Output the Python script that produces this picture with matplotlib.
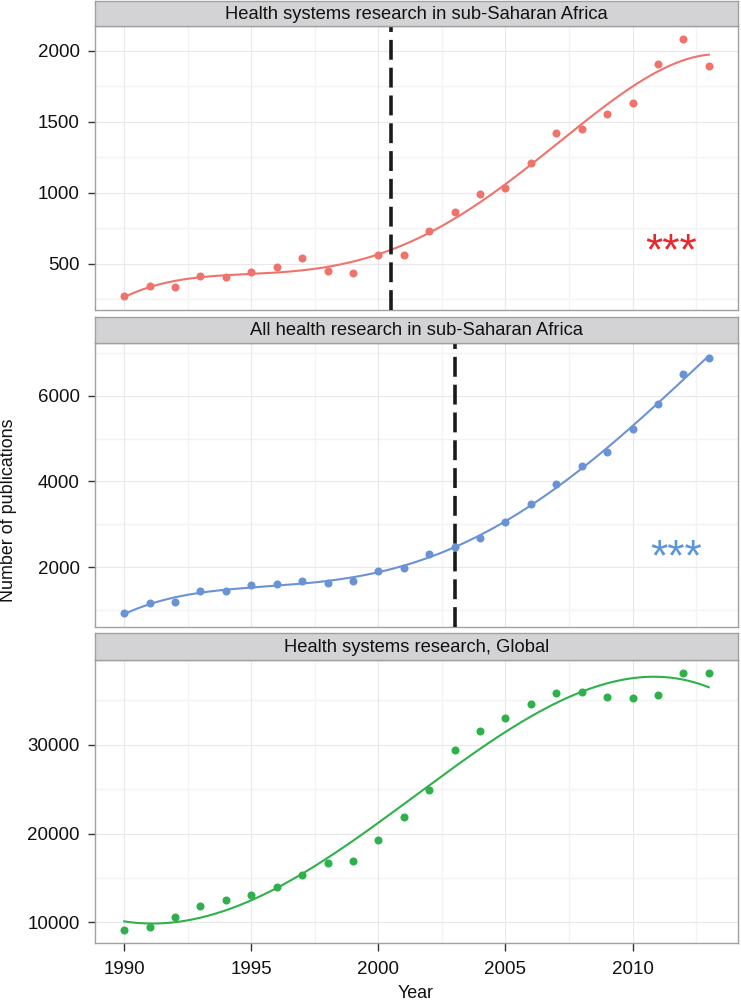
import numpy as np
import matplotlib
matplotlib.use("Agg")
import matplotlib.pyplot as plt

plt.rcParams['font.family'] = ['Liberation Sans', 'DejaVu Sans']

years = [1990, 1991, 1992, 1993, 1994, 1995, 1996, 1997, 1998, 1999, 2000, 2001,
         2002, 2003, 2004, 2005, 2006, 2007, 2008, 2009, 2010, 2011, 2012, 2013]

hsr_ssa = [277, 343, 340, 413, 406, 441, 476, 540, 448, 437, 565, 565,
           730, 863, 990, 1037, 1212, 1419, 1449, 1555, 1632, 1904, 2082, 1890]
all_ssa = [925, 1157, 1188, 1443, 1448, 1574, 1613, 1675, 1636, 1667, 1915, 1969,
           2317, 2464, 2681, 3060, 3478, 3934, 4360, 4677, 5226, 5799, 6495, 6882]
hsr_global = [9139, 9477, 10640, 11840, 12553, 13116, 13941, 15292, 16718, 16868, 19269, 21821,
              24897, 29362, 31576, 33002, 34577, 35853, 35966, 35403, 35215, 35553, 38029, 38067]

titles = ["Health systems research in sub-Saharan Africa",
          "All health research in sub-Saharan Africa",
          "Health systems research, Global"]
series = [hsr_ssa, all_ssa, hsr_global]
breakpoints = [2000.5, 2003.0, None]
yticks = [[500, 1000, 1500, 2000], [2000, 4000, 6000], [10000, 20000, 30000]]
yminor = [[250, 750, 1250, 1750], [1000, 3000, 5000, 7000], [5000, 15000, 25000, 35000]]
xticks = [1990, 1995, 2000, 2005, 2010]
xminor = [1992.5, 1997.5, 2002.5, 2007.5, 2012.5]
signif = ["***", "***", None]
signif_pos = [(2011.5, 495), (2011.7, 1930), None]

point_colors = ['#F0736B', '#6A93D6', '#2EB14B']
sig_colors = ['#E8262D', '#5D96D6', None]

# polynomial degree of the smoother for each panel
smooth_degree = [5, 5, 4]


def poly_smooth(x, y, xs, deg):
    x = np.asarray(x, float)
    y = np.asarray(y, float)
    c = x.mean()
    s = x.std()
    coef = np.polyfit((x - c) / s, y, deg)
    return np.polyval(coef, (np.asarray(xs) - c) / s)


W_, H_ = 741, 1000
fig = plt.figure(figsize=(W_ / 100, H_ / 100), dpi=100)


def px_axes(left, top, right, bottom, **kw):
    return fig.add_axes([left / W_, 1 - bottom / H_, (right - left) / W_, (bottom - top) / H_], **kw)


panels = [(95, 26, 738, 310), (95, 343, 738, 627), (95, 660, 738, 943)]
strips = [(95, 1, 738, 26), (95, 317, 738, 343), (95, 633, 738, 660)]

xr = max(years) - min(years)
xlim = (min(years) - 0.05 * xr, max(years) + 0.05 * xr)
xs = np.linspace(min(years), max(years), 300)

for i in range(3):
    ax = px_axes(*panels[i])
    y = series[i]
    fit = poly_smooth(years, y, xs, smooth_degree[i])
    lo = min(min(y), fit.min())
    hi = max(max(y), fit.max())
    r = hi - lo
    ax.set_ylim(lo - 0.05 * r, hi + 0.05 * r)
    ax.set_xlim(*xlim)

    for v in xminor:
        ax.axvline(v, color='#F3F3F3', lw=1.0, zorder=0)
    for v in yminor[i]:
        ax.axhline(v, color='#F3F3F3', lw=1.0, zorder=0)
    for v in xticks:
        ax.axvline(v, color='#E8E8E8', lw=0.8, zorder=0)
    for v in yticks[i]:
        ax.axhline(v, color='#E8E8E8', lw=0.8, zorder=0)

    ax.plot(years, y, 'o', color=point_colors[i], ms=5.8, mec='none', zorder=3)
    ax.plot(xs, fit, '-', color=point_colors[i], lw=1.5, zorder=4)

    if breakpoints[i] is not None:
        ln = ax.axvline(breakpoints[i], color='#1A1A1A', lw=2.6, zorder=5)
        ln.set_dashes((5.5, 2.2))

    if signif[i]:
        ax.text(signif_pos[i][0], signif_pos[i][1], signif[i], color=sig_colors[i],
                fontsize=32, ha='center', va='baseline', zorder=6)

    ax.set_yticks(yticks[i])
    ax.set_yticklabels([str(v) for v in yticks[i]])
    ax.tick_params(axis='y', length=5, width=1, color='#333333', pad=6,
                   labelsize=13.5, labelcolor='#111111')
    if i < 2:
        ax.set_xticks([])
    else:
        ax.set_xticks(xticks)
        ax.set_xticklabels([str(v) for v in xticks])
        ax.tick_params(axis='x', length=6, width=1, color='#333333', pad=7,
                       labelsize=13.5, labelcolor='#111111')
    for s in ax.spines.values():
        s.set_color('#A0A0A0')
        s.set_linewidth(1.0)

    sax = px_axes(*strips[i])
    sax.set_facecolor('#D3D3D5')
    sax.set_xticks([])
    sax.set_yticks([])
    for s in sax.spines.values():
        s.set_color('#A0A0A0')
        s.set_linewidth(1.0)
    sax.text(0.5, 0.47, titles[i], transform=sax.transAxes, ha='center', va='center',
             fontsize=13.2, color='#111111')

fig.text(9 / W_, 1 - 510 / H_, "Number of publications", rotation=90, ha='center', va='center',
         fontsize=12.9, color='#111111')
fig.text(416 / W_, 1 - 993 / H_, "Year", ha='center', va='center', fontsize=12.9, color='#111111')

fig.savefig("out.png", dpi=100)
